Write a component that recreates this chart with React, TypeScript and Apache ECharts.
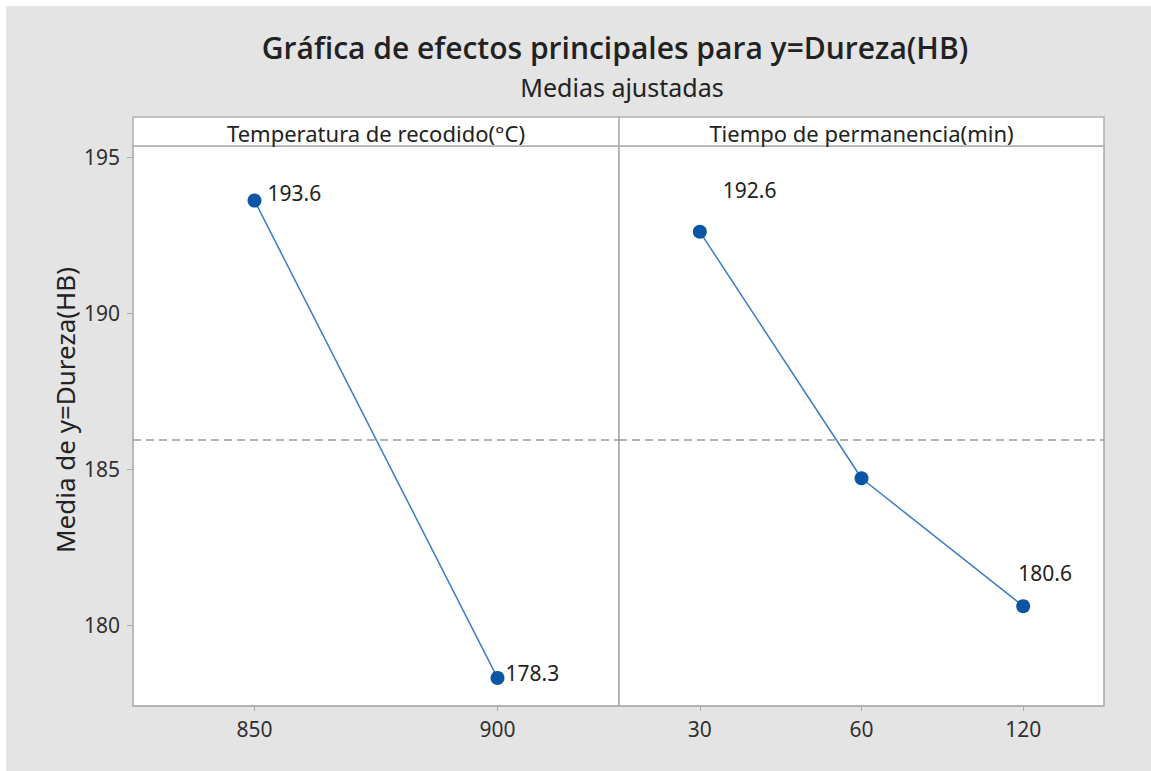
import React, { useEffect, useRef } from "react";
import * as echarts from "echarts";

const tempCategories = ["850", "900"];
const tempMeans = [193.6, 178.3];
const timeCategories = ["30", "60", "120"];
const timeMeans = [192.6, 184.7, 180.6];
const overallMean = 185.95;
const yTickValues = [180, 185, 190, 195];
const yMin = 177.4;
const yMax = 195.35;
const panelTitles = ["Temperatura de recodido(°C)", "Tiempo de permanencia(min)"];
const mainTitle = "Gráfica de efectos principales para y=Dureza(HB)";
const subTitle = "Medias ajustadas";
const yAxisTitle = "Media de y=Dureza(HB)";

const FONT = "Noto Sans";
const TITLE_FONT = "Open Sans";
const LINE_COLOR = "#3a7cc6";
const MARKER_COLOR = "#0a55a6";

const tempLabelStyles = [
  { position: "right", distance: 6, offset: [0, -8] },
  { position: "right", distance: 1, offset: [0, -5] },
];
const timeLabelStyles = [
  { position: "right", distance: 16, offset: [0, -42] },
  { show: false },
  { position: "top", distance: 4, offset: [22, -12] },
];

export default function App() {
  const ref = useRef<HTMLDivElement>(null);
  useEffect(() => {
    if (!ref.current) return;
    const chart = echarts.init(ref.current, null, { renderer: "svg" });
    const panels = [
      { left: 133, width: 486 },
      { left: 619, width: 485 },
    ];
    const gridTop = 146;
    const gridHeight = 560;
    const headerTop = 117;

    const makeX = (idx: number, cats: string[]) => ({
      type: "category",
      gridIndex: idx,
      data: cats,
      boundaryGap: true,
      axisLine: { show: true, lineStyle: { color: "#b3b3b3", width: 1.5 } },
      axisTick: { show: true, inside: false, length: 5, alignWithLabel: true, lineStyle: { color: "#aaaaaa" } },
      axisLabel: { fontSize: 21, color: "#303030", margin: 12, fontFamily: FONT },
      splitLine: { show: false },
    });
    const makeY = (idx: number, showLabels: boolean) => ({
      type: "value",
      gridIndex: idx,
      min: yMin,
      max: yMax,
      axisLine: { show: false },
      axisTick: showLabels
        ? { show: true, inside: false, length: 6, customValues: yTickValues, lineStyle: { color: "#aaaaaa" } }
        : { show: false },
      axisLabel: showLabels
        ? { show: true, fontSize: 21, color: "#303030", margin: 13, fontFamily: FONT, customValues: yTickValues }
        : { show: false },
      splitLine: { show: false },
    });

    const markLine = {
      silent: true,
      symbol: ["none", "none"],
      label: { show: false },
      lineStyle: { color: "#9a9a9a", type: [8, 5], width: 1.5 },
      data: [{ yAxis: overallMean }],
    };

    const labelBase = { show: true, fontSize: 21, color: "#222222", fontFamily: FONT };

    const option: any = {
      animation: false,
      backgroundColor: "#ffffff",
      title: [
        {
          text: mainTitle,
          left: 610,
          top: 27,
          textAlign: "center",
          textStyle: { fontSize: 30, fontWeight: 600, color: "#222222", fontFamily: TITLE_FONT },
        },
        {
          text: subTitle,
          left: 617,
          top: 69,
          textAlign: "center",
          textStyle: { fontSize: 25, fontWeight: 400, color: "#222222", fontFamily: FONT },
        },
      ],
      graphic: [
        {
          type: "rect",
          z: -10,
          silent: true,
          shape: { x: 6, y: 6, width: 1145, height: 765 },
          style: { fill: "#e4e4e4" },
        },
        ...panels.map((p, i) => ({
          type: "group",
          children: [
            {
              type: "rect",
              shape: { x: p.left, y: headerTop, width: p.width, height: gridTop - headerTop },
              style: { fill: "#ffffff", stroke: "#b0b0b0", lineWidth: 1.5 },
            },
            {
              type: "text",
              x: p.left + p.width / 2,
              y: headerTop + (gridTop - headerTop) / 2 + 1,
              style: {
                text: panelTitles[i],
                fontSize: 22,
                fontFamily: FONT,
                fill: "#222222",
                align: "center",
                verticalAlign: "middle",
              },
            },
          ],
        })),
        {
          type: "text",
          x: 65,
          y: 410,
          rotation: Math.PI / 2,
          style: {
            text: yAxisTitle,
            fontSize: 26,
            fontFamily: FONT,
            fill: "#222222",
            align: "center",
            verticalAlign: "middle",
          },
        },
      ],
      grid: panels.map((p) => ({
        left: p.left,
        width: p.width,
        top: gridTop,
        height: gridHeight,
        show: true,
        backgroundColor: "#ffffff",
        borderColor: "#a8a8a8",
        borderWidth: 1.5,
        containLabel: false,
      })),
      xAxis: [makeX(0, tempCategories), makeX(1, timeCategories)],
      yAxis: [makeY(0, true), makeY(1, false)],
      series: [
        {
          type: "line",
          xAxisIndex: 0,
          yAxisIndex: 0,
          data: tempMeans.map((v, i) => ({ value: v, label: { ...labelBase, ...tempLabelStyles[i] } })),
          symbol: "circle",
          symbolSize: 14,
          itemStyle: { color: MARKER_COLOR },
          lineStyle: { color: LINE_COLOR, width: 1.5 },
          markLine,
        },
        {
          type: "line",
          xAxisIndex: 1,
          yAxisIndex: 1,
          data: timeMeans.map((v, i) => ({ value: v, label: { ...labelBase, ...timeLabelStyles[i] } })),
          symbol: "circle",
          symbolSize: 14,
          itemStyle: { color: MARKER_COLOR },
          lineStyle: { color: LINE_COLOR, width: 1.5 },
          markLine,
        },
      ],
    };
    chart.setOption(option);
    return () => chart.dispose();
  }, []);
  return (
    <div
      ref={ref}
      style={{ position: "fixed", left: 0, top: 0, width: 1151, height: 771 }}
    />
  );
}
